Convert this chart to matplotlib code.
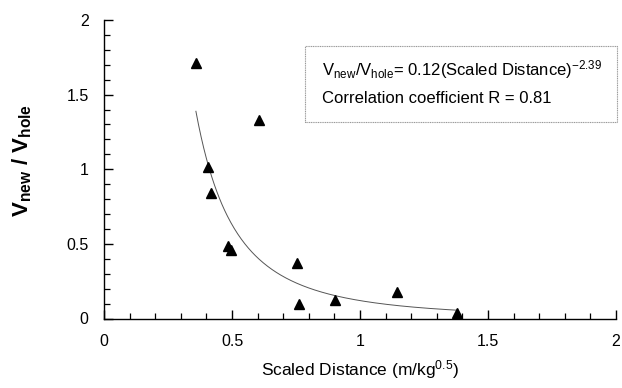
import numpy as np
import matplotlib
matplotlib.use("Agg")
import matplotlib.pyplot as plt
from matplotlib.patches import Rectangle
from matplotlib.ticker import MultipleLocator

plt.rcParams['font.family'] = ['Liberation Sans', 'DejaVu Sans']
plt.rcParams['mathtext.default'] = 'regular'
plt.rcParams['axes.unicode_minus'] = False

# Data
scaled_distance = [0.359, 0.605, 0.406, 0.418, 0.485, 0.496, 0.754, 0.762, 0.902, 1.145, 1.379]
v_ratio = [1.715, 1.33, 1.015, 0.84, 0.487, 0.46, 0.372, 0.097, 0.124, 0.178, 0.037]
fit_coef = 0.12
fit_exp = -2.39
fit_range = (0.359, 1.379)
corr_R = 0.81

fig = plt.figure(figsize=(6.22, 3.88), dpi=100)
ax = fig.add_axes([104/622, 1-318.5/388, 512/622, 298.5/388])

xs = np.linspace(fit_range[0], fit_range[1], 300)
ax.plot(xs, fit_coef * xs ** fit_exp, color='#555555', lw=0.7)
ax.plot(scaled_distance, v_ratio, linestyle='none', marker='^', ms=6.5,
        color='black', clip_on=False)

ax.set_xlim(0, 2)
ax.set_ylim(0, 2)
ax.xaxis.set_major_locator(MultipleLocator(0.5))
ax.xaxis.set_minor_locator(MultipleLocator(0.1))
ax.yaxis.set_major_locator(MultipleLocator(0.5))
ax.yaxis.set_minor_locator(MultipleLocator(0.1))
ax.xaxis.set_major_formatter(matplotlib.ticker.FuncFormatter(lambda v, p: f'{v:g}'))
ax.yaxis.set_major_formatter(matplotlib.ticker.FuncFormatter(lambda v, p: f'{v:g}'))

for s in ['top', 'right']:
    ax.spines[s].set_visible(False)
for s in ['left', 'bottom']:
    ax.spines[s].set_linewidth(1.0)

ax.tick_params(which='major', direction='in', length=6.5, width=1.0, labelsize=11.5)
ax.tick_params(which='minor', direction='in', length=4, width=0.9)
ax.tick_params(axis='x', which='major', pad=11)
ax.tick_params(axis='y', which='major', pad=11)

ax.set_xlabel('Scaled Distance (m/kg$^{0.5}$)', fontsize=12.5, labelpad=7)
fig.text(22/622, 1-160/388, 'V$_{new}$ / V$_{hole}$', rotation=90, fontsize=16,
         fontweight='bold', ha='center', va='center')

fig.patches.append(Rectangle((305/622, 1-122/388), 312/622, 76/388,
                             transform=fig.transFigure, fill=False,
                             edgecolor='#999999', lw=0.8, linestyle=(0, (1, 0.6))))
fig.text(322/622, 1-75/388,
         f'V$_{{new}}$/V$_{{hole}}$= {fit_coef:g}(Scaled Distance)$^{{{fit_exp:g}}}$',
         fontsize=12, ha='left', va='baseline')
fig.text(322/622, 1-103/388, f'Correlation coefficient R = {corr_R:g}',
         fontsize=12, ha='left', va='baseline')

fig.savefig('out.png', dpi=100)
